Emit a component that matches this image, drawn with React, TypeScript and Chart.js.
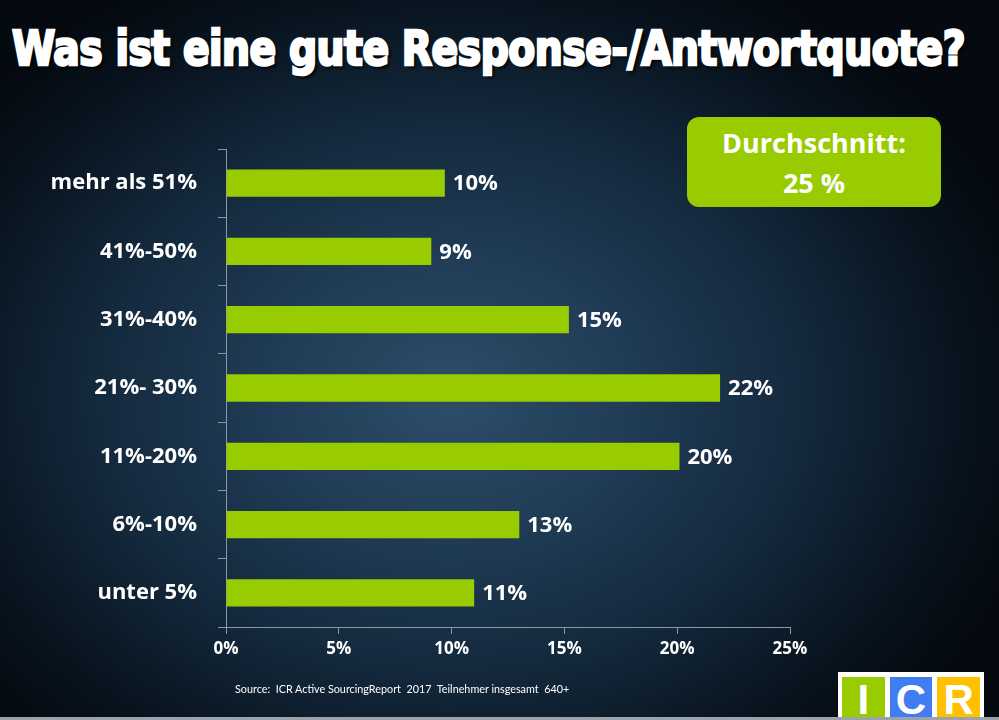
import React, { useEffect, useLayoutEffect, useRef } from "react";
import { Chart, registerables } from "chart.js";

Chart.register(...registerables);

const titleText = "Was ist eine gute Response-/Antwortquote?";
const categories = ["mehr als 51%", "41%-50%", "31%-40%", "21%- 30%", "11%-20%", "6%-10%", "unter 5%"];
const values = [9.7, 9.1, 15.2, 21.9, 20.1, 13.0, 11.0];
const valueLabels = ["10%", "9%", "15%", "22%", "20%", "13%", "11%"];
const axisMin = 0;
const axisMax = 25;
const axisStep = 5;
const boxLines = ["Durchschnitt:", "25 %"];
const sourceText = "Source:  ICR Active SourcingReport  2017  Teilnehmer insgesamt  640+";

const GREEN = "#99cc00";
const AXIS = "#8b97a3";
const FONT = "'Open Sans', Lato, sans-serif";

export default function App() {
  const canvasRef = useRef<HTMLCanvasElement | null>(null);
  const titleRef = useRef<HTMLSpanElement | null>(null);

  useLayoutEffect(() => {
    document.body.style.margin = "0";
    const el = titleRef.current;
    if (el) {
      el.style.transform = "none";
      const w = el.getBoundingClientRect().width;
      if (w > 0) el.style.transform = `scaleX(${953 / w})`;
    }
  }, []);

  useEffect(() => {
    const canvas = canvasRef.current;
    if (!canvas) return;
    const valueLabelPlugin = {
      id: "valueLabels",
      afterDatasetsDraw(chart: any) {
        const ctx = chart.ctx;
        const meta = chart.getDatasetMeta(0);
        ctx.save();
        ctx.font = "bold 22px 'Open Sans'";
        ctx.fillStyle = "#ffffff";
        ctx.textBaseline = "middle";
        ctx.textAlign = "left";
        meta.data.forEach((bar: any, i: number) => {
          ctx.fillText(valueLabels[i], bar.x + 8, bar.y + 1);
        });
        ctx.restore();
      },
    };
    const chart = new Chart(canvas, {
      type: "bar",
      data: {
        labels: categories,
        datasets: [
          {
            data: values,
            backgroundColor: GREEN,
            borderWidth: 0,
            barPercentage: 0.4,
            categoryPercentage: 1.0,
          },
        ],
      },
      options: {
        indexAxis: "y",
        responsive: false,
        animation: false,
        devicePixelRatio: 1,
        layout: { padding: { top: 149, right: 209, left: 0, bottom: 0 } },
        plugins: {
          legend: { display: false },
          tooltip: { enabled: false },
          title: { display: false },
        },
        scales: {
          x: {
            min: axisMin,
            max: axisMax,
            ticks: {
              stepSize: axisStep,
              color: "#ffffff",
              font: { family: "'Open Sans'", weight: "bold", size: 17 },
              padding: 5,
              callback: (v: any) => `${v}%`,
            },
            grid: { drawOnChartArea: false, tickLength: 7, color: AXIS },
            border: { color: AXIS, width: 1 },
            afterFit: (s: any) => {
              s.height = 93;
            },
          },
          y: {
            ticks: {
              color: "#ffffff",
              font: { family: "'Open Sans'", weight: "bold", size: 22 },
              padding: 21,
            },
            grid: { drawOnChartArea: false, offset: true, tickLength: 8, color: AXIS },
            border: { color: AXIS, width: 1 },
            afterFit: (s: any) => {
              s.width = 226;
            },
          },
        },
      },
      plugins: [valueLabelPlugin],
    } as any);
    return () => chart.destroy();
  }, []);

  return (
    <div
      style={{
        position: "absolute",
        left: 0,
        top: 0,
        width: 999,
        height: 720,
        overflow: "hidden",
        background:
          "radial-gradient(ellipse 60% 65% at 45% 55%, #2f4d69 0%, #203c56 30%, #13283b 60%, #08131e 85%, #040a10 100%)",
        fontFamily: FONT,
      }}
    >
      <div
        style={{
          position: "absolute",
          left: 12,
          top: 16,
          whiteSpace: "nowrap",
          color: "#ffffff",
          fontFamily: "'Liberation Sans Narrow', 'DejaVu Sans Condensed', sans-serif",
          fontWeight: 700,
          fontSize: 48,
          lineHeight: "64px",
          letterSpacing: -0.5,
        }}
      >
        <span
          ref={titleRef}
          style={{
            display: "inline-block",
            transformOrigin: "left center",
            WebkitTextStroke: "2.5px #ffffff",
            textShadow: "3px 3px 3px rgba(0,0,0,0.9)",
          }}
        >
          {titleText}
        </span>
      </div>
      <canvas
        ref={canvasRef}
        width={999}
        height={720}
        style={{ position: "absolute", left: 0, top: 0, width: 999, height: 720 }}
      />
      <div
        style={{
          position: "absolute",
          left: 687,
          top: 117,
          width: 254,
          height: 90,
          borderRadius: 12,
          background: GREEN,
          color: "#ffffff",
          fontWeight: 700,
          fontSize: 27,
          lineHeight: "40px",
          textAlign: "center",
          display: "flex",
          flexDirection: "column",
          justifyContent: "center",
          paddingTop: 2,
          boxSizing: "border-box",
        }}
      >
        {boxLines.map((l) => (
          <div key={l}>{l}</div>
        ))}
      </div>
      <div
        style={{
          position: "absolute",
          left: 235,
          top: 682,
          color: "#ffffff",
          fontFamily: "Lato, sans-serif",
          fontSize: 10.8,
          whiteSpace: "pre",
        }}
      >
        {sourceText}
      </div>
      <div
        style={{
          position: "absolute",
          left: 838,
          top: 672,
          width: 146,
          height: 48,
          background: "#ffffff",
          display: "flex",
          gap: 5,
          padding: "5px 4px 0 4px",
          boxSizing: "border-box",
        }}
      >
        {[
          ["I", GREEN],
          ["C", "#3f7df0"],
          ["R", "#ffc000"],
        ].map(([ch, c]) => (
          <div
            key={ch}
            style={{
              flex: 1,
              background: c,
              color: "#ffffff",
              fontFamily: "'Liberation Sans', sans-serif",
              fontWeight: 700,
              fontSize: 42,
              lineHeight: "46px",
              textAlign: "center",
            }}
          >
            {ch}
          </div>
        ))}
      </div>
      <div
        style={{
          position: "absolute",
          left: 0,
          top: 717,
          width: 999,
          height: 3,
          background: "#9aa3ab",
        }}
      />
    </div>
  );
}
